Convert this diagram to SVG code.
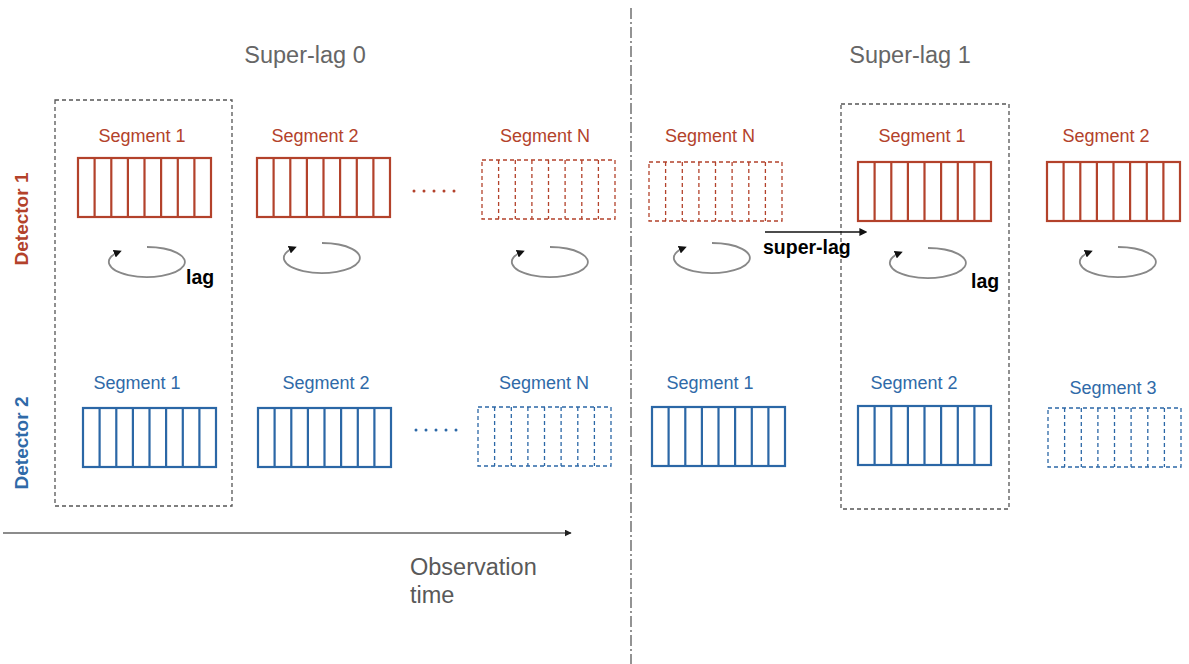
<svg xmlns="http://www.w3.org/2000/svg" xmlns:xlink="http://www.w3.org/1999/xlink" width="1189" height="664" viewBox="0 0 1189 664">
<style>
  .title{font-family:"Liberation Sans",Arial,sans-serif;font-size:23.5px;fill:#666;text-anchor:middle}
  .obs{font-family:"Liberation Sans",Arial,sans-serif;font-size:23.5px;fill:#595959}
  .seg{font-family:"Liberation Sans",Arial,sans-serif;font-size:18px;text-anchor:middle}
  .redt{fill:#b3422b}
  .bluet{fill:#2f6aa8}
  .det{font-family:"Liberation Sans",Arial,sans-serif;font-size:19px;font-weight:bold;text-anchor:middle}
  .bold{font-family:"Liberation Sans",Arial,sans-serif;font-size:19.5px;font-weight:bold;fill:#000}
  .red{stroke:#b3422b;fill:none;stroke-width:2.2}
  .blue{stroke:#2b67a6;fill:none;stroke-width:2.2}
  .dash{stroke-width:1.3;stroke-dasharray:4 3}
  .frame{fill:none;stroke:#555;stroke-width:1.3;stroke-dasharray:4 3}
  .loop{fill:none;stroke:#888;stroke-width:1.8}
  .dots{stroke-width:3;stroke-linecap:round;stroke-dasharray:0 10;fill:none}
</style>
<defs>
  <g id="cells">
    <rect x="0" y="0" width="133" height="59"/>
    <path d="M16.6,0V59M33.3,0V59M49.9,0V59M66.5,0V59M83.1,0V59M99.8,0V59M116.4,0V59"/>
  </g>
  <marker id="ah" viewBox="0 0 10 10" refX="7" refY="5" markerWidth="8" markerHeight="8" orient="auto" markerUnits="userSpaceOnUse">
    <path d="M0,0L10,5L0,10Z" fill="#111"/>
  </marker>
  <marker id="ah2" viewBox="0 0 10 10" refX="9" refY="5" markerWidth="7" markerHeight="7" orient="auto" markerUnits="userSpaceOnUse">
    <path d="M0,0L10,5L0,10Z" fill="#222"/>
  </marker>
  <path id="loop" class="loop" d="M0,-15 A38,15 0 1 1 -27.5,-10.4" marker-end="url(#ah)"/>
</defs>

<g id="titles">
  <text class="title" x="305" y="63">Super-lag 0</text>
  <text class="title" x="910" y="63">Super-lag 1</text>
</g>

<g id="detector1-label"><text class="det redt" transform="translate(28,219) rotate(-90)">Detector 1</text></g>
<g id="detector2-label"><text class="det bluet" transform="translate(28,443) rotate(-90)">Detector 2</text></g>

<g id="frame-left"><rect class="frame" x="55" y="100" width="177" height="406"/></g>
<g id="frame-right"><rect class="frame" x="841" y="104" width="168" height="405"/></g>

<!-- Detector 1 (red) -->
<g id="d1-sl0-seg1"><text class="seg redt" x="142" y="142">Segment 1</text><use href="#cells" x="78" y="158" class="red"/></g>
<g id="d1-sl0-seg2"><text class="seg redt" x="315" y="142">Segment 2</text><use href="#cells" x="257" y="158" class="red"/></g>
<g id="d1-sl0-dots"><path class="red dots" d="M414,191H455"/></g>
<g id="d1-sl0-segN"><text class="seg redt" x="545" y="142">Segment N</text><use href="#cells" x="482" y="160" class="red dash"/></g>
<g id="d1-sl1-segN"><text class="seg redt" x="710" y="142">Segment N</text><use href="#cells" x="649" y="162" class="red dash"/></g>
<g id="d1-sl1-seg1"><text class="seg redt" x="922" y="142">Segment 1</text><use href="#cells" x="858" y="162" class="red"/></g>
<g id="d1-sl1-seg2"><text class="seg redt" x="1106" y="142">Segment 2</text><use href="#cells" x="1047" y="162" class="red"/></g>

<!-- Detector 2 (blue) -->
<g id="d2-sl0-seg1"><text class="seg bluet" x="137" y="389">Segment 1</text><use href="#cells" x="83" y="408" class="blue"/></g>
<g id="d2-sl0-seg2"><text class="seg bluet" x="326" y="389">Segment 2</text><use href="#cells" x="258" y="408" class="blue"/></g>
<g id="d2-sl0-dots"><path class="blue dots" d="M416,430H457"/></g>
<g id="d2-sl0-segN"><text class="seg bluet" x="544" y="389">Segment N</text><use href="#cells" x="478" y="407" class="blue dash"/></g>
<g id="d2-sl1-seg1"><text class="seg bluet" x="710" y="389">Segment 1</text><use href="#cells" x="652" y="407" class="blue"/></g>
<g id="d2-sl1-seg2"><text class="seg bluet" x="914" y="389">Segment 2</text><use href="#cells" x="858" y="406" class="blue"/></g>
<g id="d2-sl1-seg3"><text class="seg bluet" x="1113" y="394">Segment 3</text><use href="#cells" x="1048" y="408" class="blue dash"/></g>

<!-- lag loops -->
<g id="lag-loops">
  <use href="#loop" x="147" y="262"/>
  <use href="#loop" x="322" y="258"/>
  <use href="#loop" x="550" y="262"/>
  <use href="#loop" x="712" y="258"/>
  <use href="#loop" x="928" y="263"/>
  <use href="#loop" x="1118" y="262"/>
</g>
<g id="lag-labels">
  <text class="bold" x="186" y="284">lag</text>
  <text class="bold" x="971" y="288">lag</text>
</g>

<g id="connectors">
  <line x1="631" y1="8" x2="631" y2="664" stroke="#666" stroke-width="1.4" stroke-dasharray="11 3 2 3"/>
  <line x1="765" y1="232" x2="865" y2="232" stroke="#111" stroke-width="1.3" marker-end="url(#ah)"/>
  <line x1="3" y1="533" x2="571" y2="533" stroke="#666" stroke-width="1.3" marker-end="url(#ah2)"/>
</g>
<g id="superlag-label"><text class="bold" x="763" y="254">super-lag</text></g>
<g id="observation-label">
  <text class="obs" x="410" y="575">Observation</text>
  <text class="obs" x="410" y="603">time</text>
</g>
</svg>
